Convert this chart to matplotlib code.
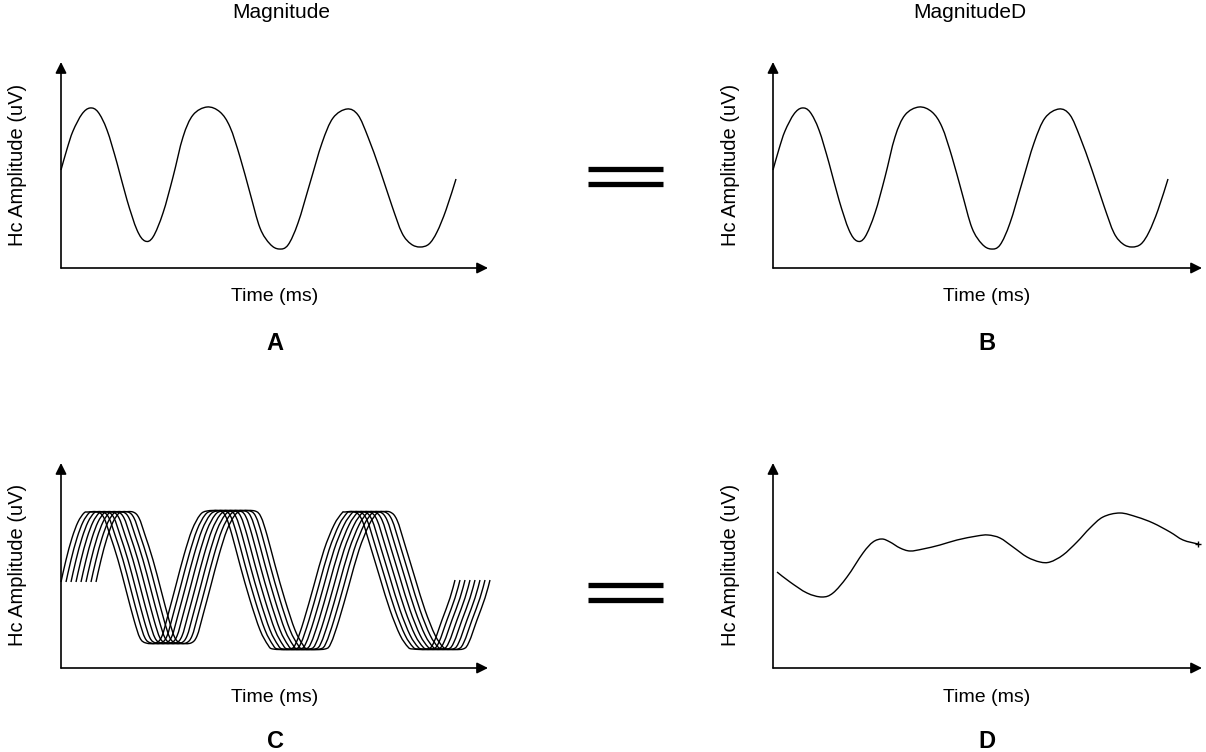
import matplotlib
matplotlib.use("Agg")
import matplotlib.pyplot as plt
from matplotlib.lines import Line2D
from matplotlib.path import Path
from matplotlib.patches import PathPatch

plt.rcParams["font.family"] = ["Liberation Sans", "DejaVu Sans"]

W, H = 1206, 752   # canvas in px

# --- data (arbitrary time / amplitude units) ---
# single response, panels A and B
time_ab = [0, 6, 12, 21, 29, 37, 46, 56, 66, 76, 84, 92, 102, 112, 122, 132, 146,
           159, 169, 179, 189, 199, 209, 218, 227, 237, 249, 261, 272, 286, 297, 307,
           319, 331, 341, 350, 359, 368, 376, 385, 395]
amp_ab = [98, 119, 137, 154, 160, 156, 138, 105, 68, 38, 27, 31, 55, 91, 131, 153, 161,
          156, 141, 111, 75, 40, 24, 19, 23, 45, 85, 125, 150, 159, 153, 131,
          98, 62, 35, 24, 21, 24, 36, 58, 89]

# clipped trial response, panel C (one trial; the others are jittered in time)
time_c = [0, 5, 11, 17, 23, 27, 37, 43, 49, 57, 65, 73, 79, 85, 95, 101, 107, 115, 123,
          131, 139, 146, 159, 165, 171, 179, 189, 199, 207, 212, 229, 235, 243, 253,
          263, 273, 281, 284, 294, 301, 309, 319, 329, 339, 347, 352, 367, 373, 381,
          389, 394]
amp_c = [86, 108, 130, 146, 155, 156, 156, 150, 133, 108, 78, 48, 30, 25, 25, 32, 53, 83,
         113, 138, 153, 157, 157, 151, 133, 103, 68, 38, 23, 19, 19, 25, 48, 83,
         118, 143, 155, 156, 156, 148, 123, 90, 58, 33, 21, 19, 19, 26, 48,
         70, 88]
latency_jitter = [0, 5, 10, 15, 20, 25, 30, 35]

# averaged response, panel D
time_d = [4, 17, 34, 49, 60, 74, 90, 100, 109, 117, 127, 137, 150, 167, 184, 204, 215,
          227, 240, 254, 267, 277, 290, 304, 317, 330, 347, 364, 380, 397, 410, 425]
amp_d = [96, 86, 75, 71, 75, 91, 115, 126, 129, 126, 120, 117, 119, 123, 128, 132, 133,
         130, 121, 111, 106, 106, 113, 126, 140, 151, 155, 151, 145, 136, 128, 124]

titles = ["Magnitude", "MagnitudeD"]
letters = ["A", "B", "C", "D"]


def frac(x, y):
    return x / W, 1 - y / H


def make_axes(fig, x0, y0, x1, ytop):
    left, bottom = frac(x0, y0)
    ax = fig.add_axes([left, bottom, (x1 - x0) / W, (y0 - ytop) / H])
    ax.set_xlim(0, x1 - x0); ax.set_ylim(0, y0 - ytop)
    ax.set_xticks([]); ax.set_yticks([])
    for s in ax.spines.values():
        s.set_visible(False)
    ax.patch.set_alpha(0)
    arrow = dict(arrowstyle="-|>,head_length=0.6,head_width=0.3", mutation_scale=11,
                 color="black", lw=1.2, shrinkA=0, shrinkB=0)
    ax.annotate("", xy=(0, 1), xytext=(0, 0), xycoords="axes fraction", arrowprops=arrow)
    ax.annotate("", xy=(1, 0), xytext=(0, 0), xycoords="axes fraction", arrowprops=arrow)
    return ax


def smooth_line(ax, xs, ys, lw=1.0):
    # Catmull-Rom through the read points, drawn as cubic bezier segments
    pts = list(zip(xs, ys))
    verts, codes = [pts[0]], [Path.MOVETO]
    n = len(pts)
    for i in range(n - 1):
        p0 = pts[max(i - 1, 0)]; p1 = pts[i]; p2 = pts[i + 1]; p3 = pts[min(i + 2, n - 1)]
        c1 = (p1[0] + (p2[0] - p0[0]) / 6, p1[1] + (p2[1] - p0[1]) / 6)
        c2 = (p2[0] - (p3[0] - p1[0]) / 6, p2[1] - (p3[1] - p1[1]) / 6)
        verts += [c1, c2, p2]; codes += [Path.CURVE4] * 3
    ax.add_patch(PathPatch(Path(verts, codes), fill=False, edgecolor="black", lw=lw,
                           clip_on=False))


def labels(fig, cx, cy, y_time, y_letter, letter, ylab_x=None):
    fig.text(*frac(cx, y_time), "Time (ms)", ha="center", va="center", fontsize=14)
    fig.text(*frac(cx, y_letter), letter, ha="center", va="center", fontsize=17,
             fontweight="bold")
    fig.text(*frac(ylab_x, cy), "Hc Amplitude (uV)", ha="center", va="center",
             fontsize=14.5, rotation=90)


def equals(fig, x0, x1, ys):
    for y in ys:
        fig.add_artist(Line2D([x0 / W, x1 / W], [1 - y / H] * 2, color="black",
                              lw=3.8, solid_capstyle="butt"))


fig = plt.figure(figsize=(W / 100, H / 100), dpi=100)

axA = make_axes(fig, 61, 268, 488, 62)
smooth_line(axA, time_ab, amp_ab)
axB = make_axes(fig, 773, 268, 1202, 62)
smooth_line(axB, time_ab, amp_ab)
axC = make_axes(fig, 61, 668, 488, 463)
for dt in latency_jitter:
    smooth_line(axC, [t + dt for t in time_c], amp_c)
axD = make_axes(fig, 773, 668, 1202, 463)
smooth_line(axD, time_d, amp_d)
axD.plot(time_d[-1:], amp_d[-1:], "+", color="black", ms=5, clip_on=False)

fig.text(*frac(281, 13), titles[0], ha="center", va="center", fontsize=15)
fig.text(*frac(970, 13), titles[1], ha="center", va="center", fontsize=15)

labels(fig, 275, 165, 297, 344, letters[0], ylab_x=18)
labels(fig, 987, 165, 297, 344, letters[1], ylab_x=730)
labels(fig, 275, 565, 697, 742, letters[2], ylab_x=18)
labels(fig, 987, 565, 697, 742, letters[3], ylab_x=730)

equals(fig, 588, 663, [168.5, 183.5])
equals(fig, 588, 663, [585, 599.5])

fig.savefig("out.png", dpi=100, facecolor="white")
